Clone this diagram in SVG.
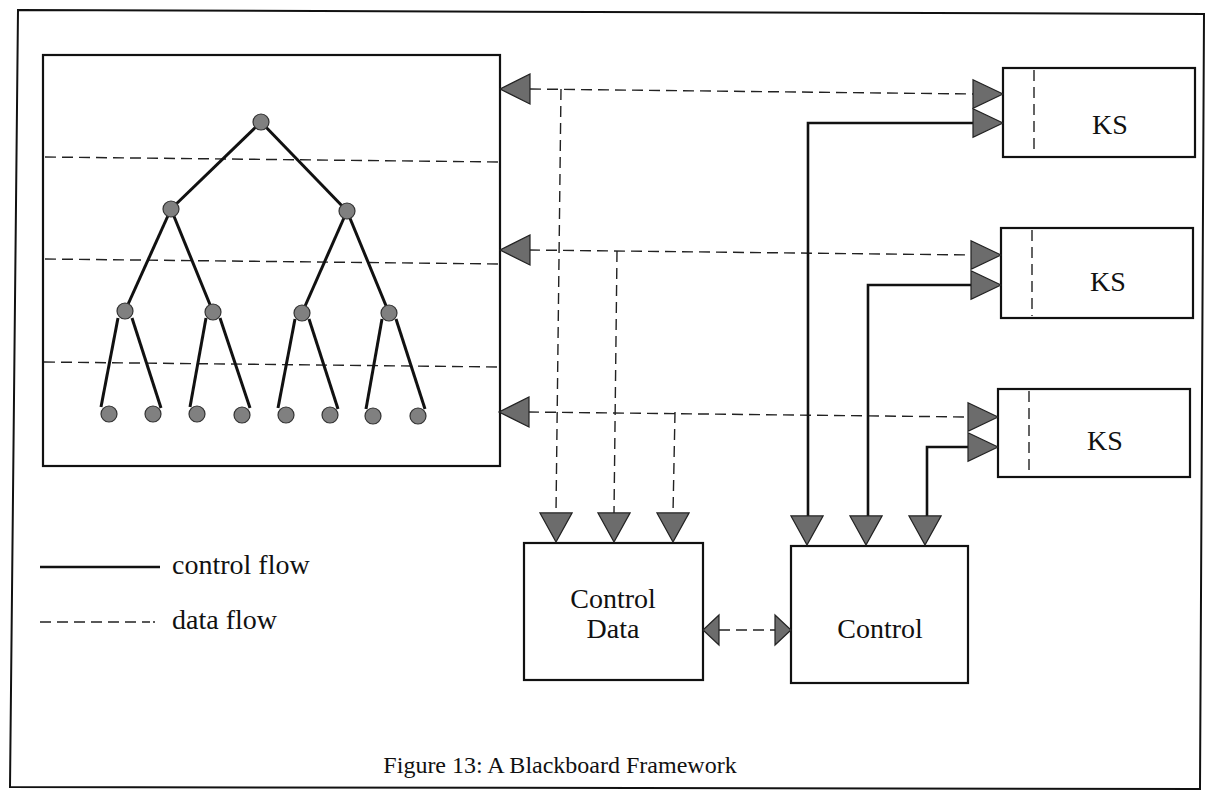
<svg xmlns="http://www.w3.org/2000/svg" width="1212" height="797" viewBox="0 0 1212 797">
<style>
.box{fill:#fff;stroke:#111;stroke-width:2.2}
.dash{fill:none;stroke:#222;stroke-width:1.4;stroke-dasharray:11 6}
.solid{fill:none;stroke:#111;stroke-width:2.6}
.edge{stroke:#111;stroke-width:3;fill:none}
.node{fill:#808080;stroke:#333;stroke-width:1.2}
.head{fill:#6c6c6c;stroke:#222;stroke-width:1.2}
.lbl{font-family:"Liberation Serif","Times New Roman",serif;fill:#111}
</style>
<defs>
<polygon id="tri" points="-30,-15 0,0 -30,15"/>
<polygon id="triN" points="-16,-15 0,0 -16,15"/>
</defs>
<rect width="1212" height="797" fill="#fff"/>
<polygon points="18,10 1204,14 1200,789 10,787" fill="none" stroke="#111" stroke-width="2"/>

<g id="blackboard">
<rect class="box" x="43" y="55" width="457" height="411"/>
<line class="dash" x1="45" y1="157" x2="500" y2="162"/>
<line class="dash" x1="45" y1="259" x2="500" y2="264"/>
<line class="dash" x1="44" y1="362" x2="500" y2="367"/>
<g id="tree">
<line class="edge" x1="261" y1="122" x2="171" y2="209"/>
<line class="edge" x1="261" y1="122" x2="347" y2="211"/>
<line class="edge" x1="171" y1="209" x2="125" y2="311"/>
<line class="edge" x1="171" y1="209" x2="213" y2="312"/>
<line class="edge" x1="347" y1="211" x2="302" y2="313"/>
<line class="edge" x1="347" y1="211" x2="389" y2="313"/>
<line class="edge" x1="118" y1="318" x2="101" y2="407"/>
<line class="edge" x1="132" y1="318" x2="161" y2="408"/>
<line class="edge" x1="206" y1="318" x2="190" y2="407"/>
<line class="edge" x1="220" y1="318" x2="250" y2="408"/>
<line class="edge" x1="295" y1="319" x2="278" y2="408"/>
<line class="edge" x1="309" y1="319" x2="338" y2="409"/>
<line class="edge" x1="382" y1="319" x2="366" y2="409"/>
<line class="edge" x1="396" y1="319" x2="425" y2="409"/>
<circle class="node" cx="261" cy="122" r="8"/>
<circle class="node" cx="171" cy="209" r="8"/>
<circle class="node" cx="347" cy="211" r="8"/>
<circle class="node" cx="125" cy="311" r="8"/>
<circle class="node" cx="213" cy="312" r="8"/>
<circle class="node" cx="302" cy="313" r="8"/>
<circle class="node" cx="389" cy="313" r="8"/>
<circle class="node" cx="109" cy="414" r="8"/>
<circle class="node" cx="153" cy="414" r="8"/>
<circle class="node" cx="197" cy="414" r="8"/>
<circle class="node" cx="242" cy="415" r="8"/>
<circle class="node" cx="286" cy="415" r="8"/>
<circle class="node" cx="330" cy="415" r="8"/>
<circle class="node" cx="373" cy="416" r="8"/>
<circle class="node" cx="418" cy="416" r="8"/>
</g>
</g>

<g id="ks1">
<rect class="box" x="1003" y="68" width="192" height="89"/>
<line class="dash" x1="1034" y1="70" x2="1034" y2="155"/>
<text class="lbl" x="1110" y="134" font-size="28" text-anchor="middle">KS</text>
</g>
<g id="ks2">
<rect class="box" x="1001" y="228" width="192" height="90"/>
<line class="dash" x1="1032" y1="230" x2="1032" y2="316"/>
<text class="lbl" x="1108" y="291" font-size="28" text-anchor="middle">KS</text>
</g>
<g id="ks3">
<rect class="box" x="998" y="389" width="192" height="88"/>
<line class="dash" x1="1029" y1="391" x2="1029" y2="475"/>
<text class="lbl" x="1105" y="450" font-size="28" text-anchor="middle">KS</text>
</g>

<g id="controlData">
<rect class="box" x="524" y="543" width="179" height="137"/>
<text class="lbl" x="613" y="608" font-size="28" text-anchor="middle">Control</text>
<text class="lbl" x="613" y="638" font-size="28" text-anchor="middle">Data</text>
</g>
<g id="control">
<rect class="box" x="791" y="546" width="177" height="137"/>
<text class="lbl" x="880" y="638" font-size="28" text-anchor="middle">Control</text>
</g>

<g id="connectors">
<polyline class="dash" points="530,89 973,94"/>
<polyline class="dash" points="529,250 972,255"/>
<polyline class="dash" points="528,412 968,417"/>
<polyline class="dash" points="561,89 556,513"/>
<polyline class="dash" points="617,251 614,513"/>
<polyline class="dash" points="675,412 673,513"/>
<polyline class="solid" points="973,123 808,123 808,516"/>
<polyline class="solid" points="972,285 868,285 868,516"/>
<polyline class="solid" points="968,447 927,447 927,516"/>
<line class="dash" x1="719" y1="630" x2="775" y2="630"/>
<use href="#tri" class="head" transform="translate(500,89) rotate(180)"/>
<use href="#tri" class="head" transform="translate(500,250) rotate(180)"/>
<use href="#tri" class="head" transform="translate(499,412) rotate(180)"/>
<use href="#tri" class="head" transform="translate(1003,94) scale(1,0.95)"/>
<use href="#tri" class="head" transform="translate(1003,123) scale(1,0.95)"/>
<use href="#tri" class="head" transform="translate(1001,255) scale(1,0.95)"/>
<use href="#tri" class="head" transform="translate(1001,285) scale(1,0.95)"/>
<use href="#tri" class="head" transform="translate(998,417) scale(1,0.95)"/>
<use href="#tri" class="head" transform="translate(998,447) scale(1,0.95)"/>
<use href="#tri" class="head" transform="translate(556,542) rotate(90) scale(0.97,1.07)"/>
<use href="#tri" class="head" transform="translate(614,542) rotate(90) scale(0.97,1.07)"/>
<use href="#tri" class="head" transform="translate(673,542) rotate(90) scale(0.97,1.07)"/>
<use href="#tri" class="head" transform="translate(807,545) rotate(90) scale(0.97,1.07)"/>
<use href="#tri" class="head" transform="translate(866,545) rotate(90) scale(0.97,1.07)"/>
<use href="#tri" class="head" transform="translate(925,545) rotate(90) scale(0.97,1.07)"/>
<use href="#triN" class="head" transform="translate(703,630) rotate(180)"/>
<use href="#triN" class="head" transform="translate(791,630)"/>
</g>

<g id="legend">
<line class="solid" x1="40" y1="567" x2="160" y2="567" stroke-width="2"/>
<text class="lbl" x="172" y="574" font-size="28">control flow</text>
<line class="dash" x1="40" y1="622" x2="150" y2="622"/>
<circle cx="154" cy="622" r="1" fill="#222"/>
<text class="lbl" x="172" y="629" font-size="28">data flow</text>
</g>

<text id="caption" class="lbl" x="560" y="773" font-size="24" text-anchor="middle">Figure 13: A Blackboard Framework</text>
</svg>
